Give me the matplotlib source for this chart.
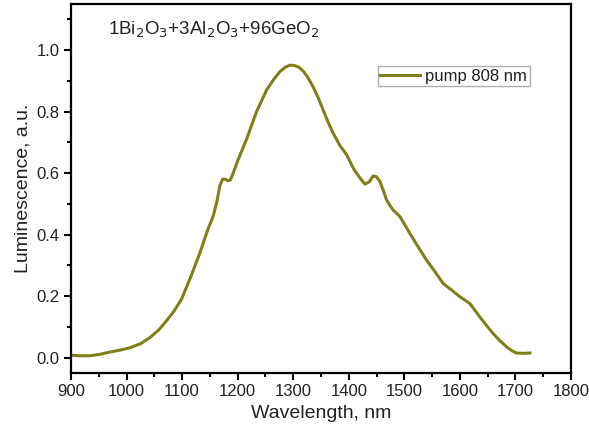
import matplotlib.pyplot as plt
from matplotlib.ticker import MultipleLocator

plt.rcParams['font.family'] = ['Liberation Sans', 'DejaVu Sans']
plt.rcParams['text.color'] = '#222222'
plt.rcParams['axes.labelcolor'] = '#222222'
plt.rcParams['xtick.labelcolor'] = '#222222'
plt.rcParams['ytick.labelcolor'] = '#222222'

# spectrum
wavelength = [900, 915, 934, 950, 970, 990, 1006, 1025, 1042, 1058, 1072, 1085,
              1099, 1115, 1132, 1145, 1156, 1163, 1168, 1173, 1178, 1183, 1187,
              1192, 1200, 1216, 1234, 1252, 1265, 1276, 1286, 1294, 1302, 1310,
              1318, 1326, 1336, 1345, 1354, 1363, 1372, 1384, 1396, 1410, 1420,
              1429, 1437, 1444, 1450, 1456, 1462, 1468, 1474, 1480, 1492, 1510,
              1525, 1540, 1555, 1570, 1585, 1600, 1618, 1636, 1650, 1660, 1672,
              1684, 1694, 1702, 1714, 1726]
lum = [0.008, 0.006, 0.006, 0.010, 0.018, 0.025, 0.032, 0.045, 0.065, 0.090, 0.12, 0.15,
       0.19, 0.26, 0.34, 0.41, 0.46, 0.51, 0.56, 0.58, 0.58, 0.575, 0.578,
       0.60, 0.64, 0.71, 0.80, 0.87, 0.905, 0.93, 0.945, 0.951, 0.95, 0.945,
       0.932, 0.912, 0.88, 0.845, 0.805, 0.765, 0.73, 0.69, 0.66, 0.61, 0.585,
       0.564, 0.572, 0.591, 0.588, 0.573, 0.545, 0.513, 0.495, 0.480, 0.459, 0.404,
       0.36, 0.317, 0.28, 0.241, 0.22, 0.198, 0.176, 0.132, 0.10, 0.078, 0.055,
       0.035, 0.022, 0.015, 0.014, 0.015]

composition = r'1Bi$_2$O$_3$+3Al$_2$O$_3$+96GeO$_2$'
series_label = 'pump 808 nm'

fig = plt.figure(figsize=(5.89, 4.37), dpi=100)
ax = fig.add_axes([0.1205, 0.1465, 0.8489, 0.8443])

ax.plot(wavelength, lum, color='#80801a', lw=2.2, label=series_label)

ax.set_xlim(900, 1800)
ax.set_ylim(-0.05, 1.15)
ax.xaxis.set_major_locator(MultipleLocator(100))
ax.xaxis.set_minor_locator(MultipleLocator(50))
ax.yaxis.set_major_locator(MultipleLocator(0.2))
ax.yaxis.set_minor_locator(MultipleLocator(0.1))
ax.yaxis.set_major_formatter(plt.FormatStrFormatter('%.1f'))
ax.tick_params(which='major', direction='out', length=5, width=1.5, labelsize=12, pad=3)
ax.tick_params(which='minor', direction='out', length=3, width=1.5)
for s in ax.spines.values():
    s.set_linewidth(1.6)

ax.set_xlabel('Wavelength, nm', fontsize=14, labelpad=4)
ax.set_ylabel('Luminescence, a.u.', fontsize=14, labelpad=4)

ax.text(0.075, 0.93, composition, transform=ax.transAxes, fontsize=13.5,
        ha='left', va='center')

ax.legend(loc='upper left', bbox_to_anchor=(0.614, 0.832), fontsize=12,
          frameon=True, fancybox=False, edgecolor='#999999', handlelength=2.4,
          borderpad=0.15, borderaxespad=0, handletextpad=0.3)

fig.savefig('out.png', dpi=100)
